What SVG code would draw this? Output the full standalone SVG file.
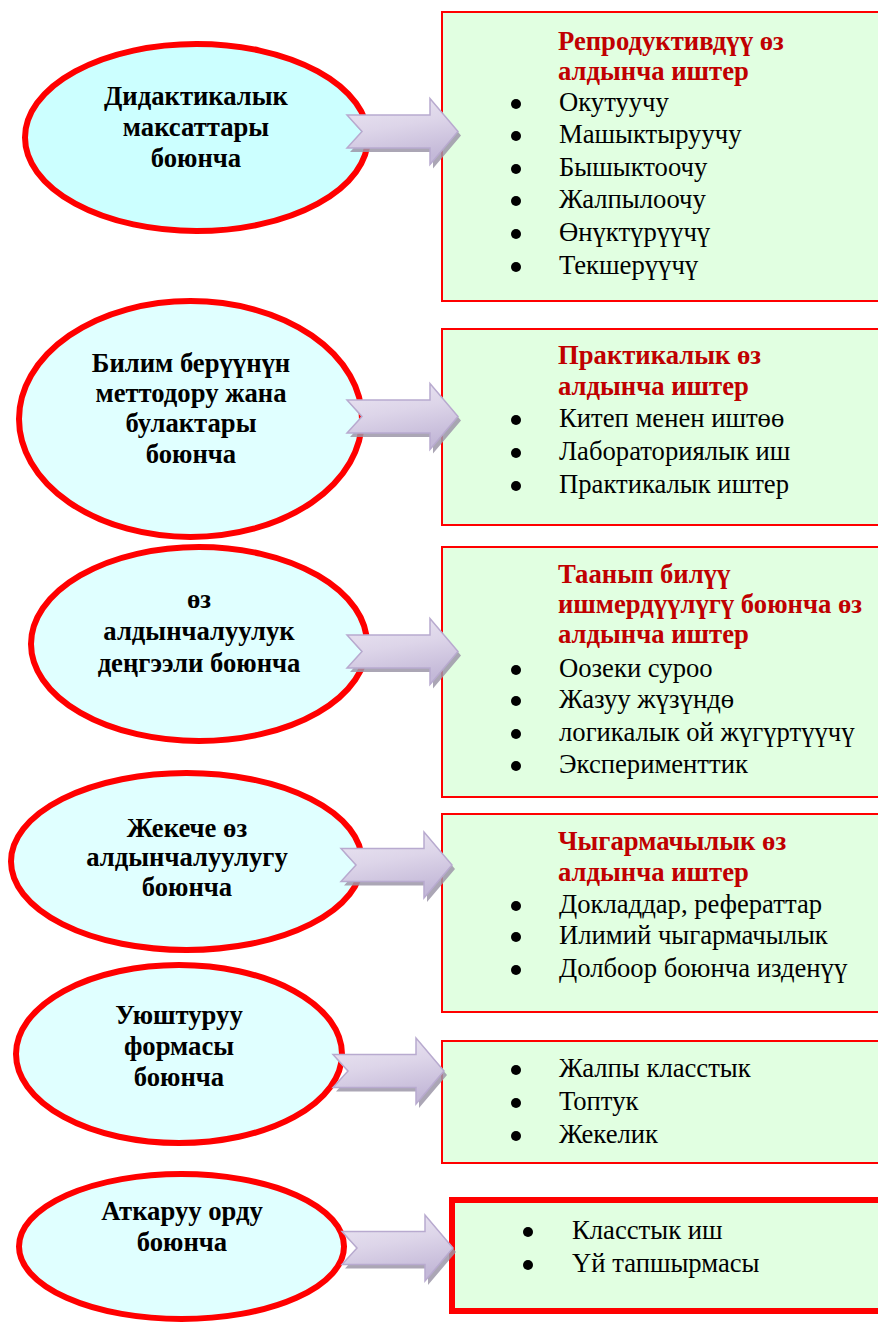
<svg xmlns="http://www.w3.org/2000/svg" width="878" height="1325" viewBox="0 0 878 1325">
<style>
.ell{stroke:#FF0000;stroke-width:6;fill:#E0FFFF}
.e1{fill:#CCFFFF}
.et{font-family:"Liberation Serif","Times New Roman",serif;font-weight:bold;font-size:26.67px;text-anchor:middle;fill:#000}
.box{fill:#E1FFE1;stroke:#FF0000;stroke-width:2}
.box6{fill:#E1FFE1;stroke:#FF0000;stroke-width:6}
.tt{font-family:"Liberation Serif","Times New Roman",serif;font-weight:bold;font-size:26.67px;fill:#C00000}
.it{font-family:"Liberation Serif","Times New Roman",serif;font-size:26.67px;fill:#000}
.bl{fill:#000}
.ash{fill:#9C96A8;opacity:0.85}
.arw{fill:url(#ag);stroke:#B8AACF;stroke-width:1.5;stroke-linejoin:miter}
</style>
<defs>
<linearGradient id="ag" x1="0" y1="0" x2="0.3" y2="1">
<stop offset="0" stop-color="#ECE7F3"/>
<stop offset="0.5" stop-color="#DDD5E9"/>
<stop offset="1" stop-color="#C4B9D8"/>
</linearGradient>
<path id="arr" d="M0,-16.5 L83,-16.5 L83,-33 L111,0 L83,33 L83,16.5 L0,16.5 L15,0 Z"/>
</defs>
<rect width="878" height="1325" fill="#FFFFFF"/>

<g id="box1">
<rect class="box" x="442" y="12" width="450" height="289"/>
<text class="tt" x="558" y="50">Репродуктивдүү өз</text>
<text class="tt" x="558" y="80">алдынча иштер</text>
<circle class="bl" cx="516" cy="104" r="5"/><text class="it" x="559" y="111">Окутуучу</text>
<circle class="bl" cx="516" cy="136" r="5"/><text class="it" x="559" y="143">Машыктыруучу</text>
<circle class="bl" cx="516" cy="169" r="5"/><text class="it" x="559" y="176">Бышыктоочу</text>
<circle class="bl" cx="516" cy="201" r="5"/><text class="it" x="559" y="208">Жалпылоочу</text>
<circle class="bl" cx="516" cy="234" r="5"/><text class="it" x="559" y="241">Өнүктүрүүчү</text>
<circle class="bl" cx="516" cy="267" r="5"/><text class="it" x="559" y="274">Текшерүүчү</text>
</g>

<g id="box2">
<rect class="box" x="442" y="329" width="450" height="196"/>
<text class="tt" x="558" y="364">Практикалык өз</text>
<text class="tt" x="558" y="395">алдынча иштер</text>
<circle class="bl" cx="516" cy="420" r="5"/><text class="it" x="559" y="427">Китеп менен иштөө</text>
<circle class="bl" cx="516" cy="453" r="5"/><text class="it" x="559" y="460">Лабораториялык иш</text>
<circle class="bl" cx="516" cy="486" r="5"/><text class="it" x="559" y="493">Практикалык иштер</text>
</g>

<g id="box3">
<rect class="box" x="442" y="547" width="450" height="250"/>
<text class="tt" x="558" y="583">Таанып билүү</text>
<text class="tt" x="558" y="613">ишмердүүлүгү боюнча өз</text>
<text class="tt" x="558" y="643">алдынча иштер</text>
<circle class="bl" cx="516" cy="670" r="5"/><text class="it" x="559" y="677">Оозеки суроо</text>
<circle class="bl" cx="516" cy="701" r="5"/><text class="it" x="559" y="708">Жазуу жүзүндө</text>
<circle class="bl" cx="516" cy="734" r="5"/><text class="it" x="559" y="741">логикалык ой жүгүртүүчү</text>
<circle class="bl" cx="516" cy="766" r="5"/><text class="it" x="559" y="773">Эксперименттик</text>
</g>

<g id="box4">
<rect class="box" x="442" y="814" width="450" height="198"/>
<text class="tt" x="558" y="850">Чыгармачылык өз</text>
<text class="tt" x="558" y="881">алдынча иштер</text>
<circle class="bl" cx="516" cy="906" r="5"/><text class="it" x="559" y="913">Докладдар, рефераттар</text>
<circle class="bl" cx="516" cy="937" r="5"/><text class="it" x="559" y="944">Илимий чыгармачылык</text>
<circle class="bl" cx="516" cy="970" r="5"/><text class="it" x="559" y="977">Долбоор боюнча изденүү</text>
</g>

<g id="box5">
<rect class="box" x="442" y="1041" width="450" height="122"/>
<circle class="bl" cx="516" cy="1070" r="5"/><text class="it" x="559" y="1077">Жалпы класстык</text>
<circle class="bl" cx="516" cy="1103" r="5"/><text class="it" x="559" y="1110">Топтук</text>
<circle class="bl" cx="516" cy="1136" r="5"/><text class="it" x="559" y="1143">Жекелик</text>
</g>

<g id="box6">
<rect class="box6" x="452" y="1200" width="440" height="111"/>
<circle class="bl" cx="528" cy="1232" r="5"/><text class="it" x="572" y="1239">Класстык иш</text>
<circle class="bl" cx="528" cy="1265" r="5"/><text class="it" x="572" y="1272">Үй тапшырмасы</text>
</g>

<g id="ell1">
<ellipse class="ell e1" cx="196.5" cy="137.5" rx="171.5" ry="93.5"/>
<text class="et" x="196" y="105">Дидактикалык</text>
<text class="et" x="196" y="136">максаттары</text>
<text class="et" x="196" y="167">боюнча</text>
</g>

<g id="ell2">
<ellipse class="ell" cx="190.5" cy="419" rx="171.5" ry="118"/>
<text class="et" x="191" y="372">Билим берүүнүн</text>
<text class="et" x="191" y="402">меттодору жана</text>
<text class="et" x="191" y="432">булактары</text>
<text class="et" x="191" y="463">боюнча</text>
</g>

<g id="ell3">
<ellipse class="ell" cx="199" cy="644" rx="168" ry="97"/>
<text class="et" x="199" y="608">өз</text>
<text class="et" x="199" y="640">алдынчалуулук</text>
<text class="et" x="199" y="672">деңгээли боюнча</text>
</g>

<g id="ell4">
<ellipse class="ell" cx="186.5" cy="861.5" rx="175.5" ry="88.5"/>
<text class="et" x="187" y="837">Жекече өз</text>
<text class="et" x="187" y="866">алдынчалуулугу</text>
<text class="et" x="187" y="896">боюнча</text>
</g>

<g id="ell5">
<ellipse class="ell" cx="179" cy="1054" rx="163" ry="89"/>
<text class="et" x="179" y="1024">Уюштуруу</text>
<text class="et" x="179" y="1055">формасы</text>
<text class="et" x="179" y="1086">боюнча</text>
</g>

<g id="ell6">
<ellipse class="ell" cx="181.5" cy="1246.5" rx="162.5" ry="72.5"/>
<text class="et" x="182" y="1220">Аткаруу орду</text>
<text class="et" x="182" y="1251">боюнча</text>
</g>

<g id="connectors">
<use href="#arr" class="ash" transform="translate(350,135.5)"/>
<use href="#arr" class="arw" transform="translate(347,131.5)"/>
<use href="#arr" class="ash" transform="translate(350,420.5)"/>
<use href="#arr" class="arw" transform="translate(347,416.5)"/>
<use href="#arr" class="ash" transform="translate(350,655.5)"/>
<use href="#arr" class="arw" transform="translate(347,651.5)"/>
<use href="#arr" class="ash" transform="translate(344,869)"/>
<use href="#arr" class="arw" transform="translate(341,865)"/>
<use href="#arr" class="ash" transform="translate(336,1075)"/>
<use href="#arr" class="arw" transform="translate(333,1071)"/>
<use href="#arr" class="ash" transform="translate(345,1252)"/>
<use href="#arr" class="arw" transform="translate(342,1248)"/>
</g>
</svg>
